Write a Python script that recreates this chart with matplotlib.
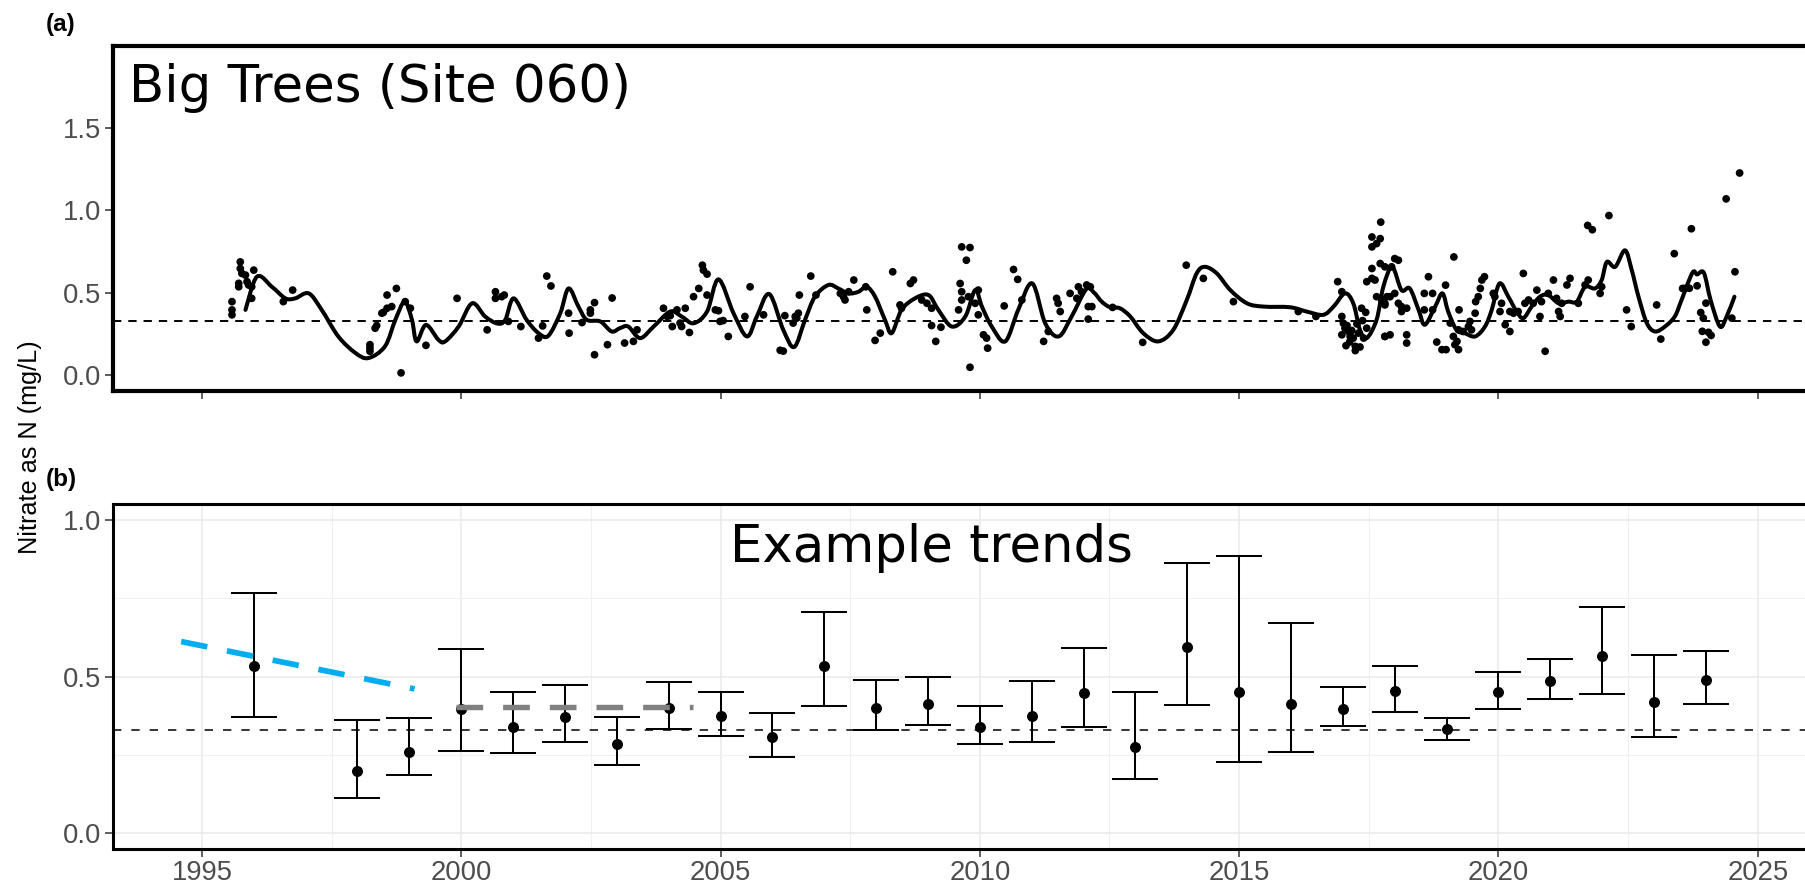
import numpy as np
import matplotlib
matplotlib.use("Agg")
import matplotlib.pyplot as plt
from matplotlib.path import Path
from matplotlib.patches import PathPatch

plt.rcParams["lines.scale_dashes"] = False

# --- panel (a): individual nitrate samples (year, mg/L) ---
obs_year = [
    1995.58, 1995.58, 1995.58, 1995.74, 1995.74, 1995.77, 1995.71, 1995.71, 1995.84, 1995.87,
    1995.90, 1995.96, 1996.00, 1995.96, 1996.57, 1996.75, 1998.24, 1998.24, 1998.24, 1998.34,
    1998.37, 1998.47, 1998.50, 1998.57, 1998.57, 1998.66, 1998.75, 1998.84, 1998.92, 1999.02,
    1999.32, 1999.92, 2000.50, 2000.66, 2000.66, 2000.78,
    2000.83, 2000.91, 2001.15, 2001.49, 2001.57, 2001.65, 2001.73, 2002.07, 2002.08, 2002.33,
    2002.49, 2002.49, 2002.57, 2002.57, 2002.82, 2002.91, 2003.15, 2003.32, 2003.39, 2003.90,
    2003.97, 2004.03, 2004.07, 2004.16, 2004.22, 2004.25, 2004.32, 2004.40, 2004.48, 2004.58,
    2004.65, 2004.67, 2004.74, 2004.74, 2004.90, 2004.96, 2004.99, 2005.05, 2005.15, 2005.47,
    2005.57, 2005.83, 2006.15, 2006.21, 2006.24, 2006.40, 2006.47, 2006.52,
    2006.44, 2006.50, 2006.74, 2006.84, 2007.31, 2007.37, 2007.40, 2007.47, 2007.57, 2007.80,
    2007.82, 2007.98, 2008.08, 2008.32, 2008.46, 2008.49, 2008.66, 2008.72, 2008.88, 2008.98,
    2009.07, 2009.07, 2009.25, 2009.15, 2009.59, 2009.62, 2009.65, 2009.65, 2009.65, 2009.81,
    2009.74, 2009.78, 2009.91, 2009.97, 2009.97, 2009.81, 2010.07, 2010.13, 2010.15, 2010.47,
    2010.65, 2010.73, 2010.81, 2011.23, 2011.32, 2011.48, 2011.51, 2011.55, 2011.74, 2011.87,
    2011.90, 2011.96, 2012.06, 2012.09, 2012.09,
    2012.13, 2012.16, 2012.56, 2013.14, 2013.98, 2014.31, 2014.89, 2016.14, 2016.48,
    2016.90, 2016.98, 2016.98, 2017.01, 2016.98, 2017.04, 2017.11, 2017.14, 2017.06, 2017.20,
    2017.24, 2017.24, 2017.30, 2017.36, 2017.40, 2017.46, 2017.46, 2017.56, 2017.62, 2017.56,
    2017.56, 2017.65, 2017.73, 2017.56, 2017.72, 2017.65, 2017.75, 2017.81, 2017.85, 2017.81,
    2017.72, 2017.08, 2017.13, 2017.17, 2017.27, 2017.33, 2017.38, 2017.44,
    2017.81, 2017.94, 2018.00, 2018.07, 2017.81, 2017.91, 2018.00, 2017.91, 2017.81, 2018.07,
    2018.13, 2018.13, 2018.23, 2018.23, 2018.23, 2018.57, 2018.73, 2018.57, 2018.73, 2018.65,
    2018.81, 2018.91, 2018.99, 2018.98, 2019.14, 2019.07, 2019.13, 2019.20, 2019.23, 2019.16,
    2019.23, 2019.24, 2019.32, 2019.42, 2019.48, 2019.45, 2019.55, 2019.56, 2019.61, 2019.65,
    2019.68, 2019.73, 2019.90, 2020.03, 2019.93, 2020.06, 2020.22, 2020.22, 2020.29, 2020.13,
    2020.38, 2020.48, 2020.51, 2020.58, 2020.67, 2020.74, 2020.80, 2020.83, 2020.90, 2020.96,
    2021.06, 2021.12, 2021.16, 2021.19, 2021.22, 2021.32, 2021.38, 2021.54, 2021.67, 2021.73,
    2021.72, 2021.81, 2022.13, 2021.96, 2021.99, 2022.47, 2022.56, 2023.05, 2023.13, 2023.39,
    2023.55, 2023.72, 2023.60, 2023.68, 2023.83, 2023.90, 2023.95, 2024.00, 2024.00, 2023.93,
    2024.05, 2024.10, 2024.39, 2024.56, 2024.50, 2024.65,
]
obs_nitrate = [
    0.445, 0.395, 0.365, 0.686, 0.646, 0.616, 0.556, 0.535, 0.606, 0.566,
    0.546, 0.535, 0.636, 0.465, 0.445, 0.515, 0.184, 0.164, 0.144, 0.284,
    0.300, 0.375, 0.380, 0.405, 0.485, 0.415, 0.525, 0.013, 0.445, 0.405,
    0.180, 0.465, 0.274, 0.505, 0.465, 0.475,
    0.485, 0.325, 0.294, 0.224, 0.298, 0.600, 0.540, 0.375, 0.254, 0.318,
    0.395, 0.375, 0.439, 0.123, 0.184, 0.467, 0.194, 0.204, 0.274, 0.405,
    0.355, 0.360, 0.294, 0.395, 0.315, 0.294, 0.405, 0.258, 0.475, 0.525,
    0.666, 0.636, 0.612, 0.485, 0.395, 0.390, 0.325, 0.330, 0.234, 0.355,
    0.535, 0.365, 0.150, 0.145, 0.360, 0.315, 0.345, 0.485,
    0.355, 0.375, 0.600, 0.485, 0.495, 0.475, 0.455, 0.505, 0.576, 0.535,
    0.395, 0.210, 0.254, 0.626, 0.425, 0.405, 0.555, 0.576, 0.455, 0.435,
    0.405, 0.300, 0.290, 0.204, 0.395, 0.555, 0.505, 0.455, 0.777, 0.773,
    0.696, 0.475, 0.435, 0.515, 0.365, 0.047, 0.244, 0.224, 0.163, 0.419,
    0.640, 0.580, 0.455, 0.204, 0.264, 0.465, 0.435, 0.385, 0.495, 0.465,
    0.535, 0.505, 0.546, 0.415, 0.339,
    0.535, 0.415, 0.410, 0.198, 0.666, 0.586, 0.445, 0.385, 0.355,
    0.566, 0.505, 0.355, 0.314, 0.244, 0.284, 0.264, 0.234, 0.178, 0.224,
    0.174, 0.148, 0.254, 0.405, 0.224, 0.284, 0.566, 0.586, 0.576, 0.646,
    0.777, 0.797, 0.927, 0.837, 0.827, 0.475, 0.455, 0.425, 0.475, 0.234,
    0.676, 0.300, 0.200, 0.270, 0.310, 0.170, 0.330, 0.380,
    0.656, 0.656, 0.706, 0.696, 0.435, 0.475, 0.495, 0.244, 0.234, 0.435,
    0.415, 0.385, 0.405, 0.244, 0.194, 0.495, 0.495, 0.395, 0.395, 0.596,
    0.200, 0.154, 0.154, 0.545, 0.716, 0.315, 0.234, 0.204, 0.154, 0.184,
    0.274, 0.395, 0.264, 0.294, 0.274, 0.325, 0.375, 0.445, 0.475, 0.525,
    0.576, 0.596, 0.495, 0.385, 0.475, 0.435, 0.385, 0.264, 0.375, 0.305,
    0.385, 0.616, 0.435, 0.455, 0.435, 0.515, 0.355, 0.445, 0.144, 0.495,
    0.576, 0.465, 0.385, 0.355, 0.435, 0.546, 0.586, 0.435, 0.546, 0.576,
    0.907, 0.881, 0.967, 0.495, 0.535, 0.395, 0.294, 0.425, 0.218, 0.736,
    0.525, 0.887, 0.526, 0.526, 0.541, 0.379, 0.345, 0.436, 0.199, 0.265,
    0.259, 0.240, 1.068, 0.626, 0.345, 1.225,
]

# smoothed fit through the samples (vertices)
fit_year = [
    1995.84, 1996.06, 1996.35, 1996.61, 1996.80, 1997.06, 1997.31, 1997.63, 1997.96, 1998.21,
    1998.53, 1998.73, 1998.91, 1999.05, 1999.14, 1999.32, 1999.56, 1999.69, 1999.95, 2000.21,
    2000.46, 2000.70, 2000.85, 2001.01, 2001.26, 2001.49, 2001.68, 2001.91, 2002.07, 2002.26,
    2002.42, 2002.68, 2002.90, 2003.06, 2003.22, 2003.45, 2003.71, 2004.03, 2004.25, 2004.48,
    2004.74, 2004.96, 2005.25, 2005.51, 2005.70, 2005.94, 2006.21, 2006.42, 2006.63, 2006.82,
    2007.08, 2007.27, 2007.47, 2007.66, 2007.82, 2007.98, 2008.17, 2008.30, 2008.49, 2008.75,
    2009.01, 2009.20, 2009.46, 2009.72, 2009.91, 2010.04, 2010.23, 2010.49, 2010.74, 2011.01,
    2011.26, 2011.52, 2011.77, 2012.05, 2012.20, 2012.35, 2012.51, 2012.70, 2012.90, 2013.15,
    2013.44, 2013.73, 2013.99, 2014.18, 2014.34, 2014.57, 2014.83, 2015.15, 2015.47, 2015.98,
    2016.30, 2016.62, 2016.82, 2017.04, 2017.20, 2017.33, 2017.46, 2017.65, 2017.78, 2017.95,
    2018.13, 2018.29, 2018.46, 2018.58, 2018.78, 2018.92, 2019.03, 2019.19, 2019.35, 2019.55,
    2019.74, 2019.87, 2020.02, 2020.19, 2020.35, 2020.48, 2020.64, 2020.80, 2020.96, 2021.16,
    2021.35, 2021.51, 2021.67, 2021.86, 2021.99, 2022.09, 2022.25, 2022.44, 2022.57, 2022.70,
    2022.86, 2023.02, 2023.21, 2023.40, 2023.53, 2023.74, 2023.83, 2023.96, 2024.09, 2024.27,
    2024.40, 2024.55,
]
fit_nitrate = [
    0.395, 0.596, 0.535, 0.465, 0.465, 0.495, 0.395, 0.234, 0.134, 0.103,
    0.174, 0.335, 0.445, 0.335, 0.204, 0.304, 0.214, 0.204, 0.294, 0.435,
    0.355, 0.312, 0.335, 0.465, 0.335, 0.254, 0.238, 0.375, 0.525, 0.415,
    0.335, 0.325, 0.264, 0.284, 0.294, 0.224, 0.294, 0.385, 0.355, 0.314,
    0.385, 0.580, 0.375, 0.234, 0.355, 0.491, 0.274, 0.170, 0.335, 0.475,
    0.546, 0.525, 0.495, 0.505, 0.535, 0.475, 0.335, 0.254, 0.395, 0.465,
    0.485, 0.395, 0.294, 0.355, 0.515, 0.415, 0.294, 0.204, 0.395, 0.556,
    0.314, 0.234, 0.355, 0.520, 0.500, 0.445, 0.411, 0.405, 0.355, 0.254,
    0.204, 0.274, 0.455, 0.616, 0.656, 0.616, 0.515, 0.435, 0.415, 0.411,
    0.385, 0.365, 0.415, 0.495, 0.435, 0.274, 0.224, 0.335, 0.535, 0.655,
    0.515, 0.525, 0.395, 0.305, 0.415, 0.495, 0.385, 0.274, 0.254, 0.234,
    0.294, 0.395, 0.555, 0.475, 0.385, 0.345, 0.415, 0.475, 0.485, 0.435,
    0.445, 0.445, 0.535, 0.525, 0.576, 0.686, 0.656, 0.756, 0.636, 0.475,
    0.315, 0.264, 0.294, 0.355, 0.455, 0.620, 0.610, 0.620, 0.455, 0.294,
    0.355, 0.475,
]

ref_level = 0.33

# --- panel (b): annual means with confidence intervals ---
ann_year = [1996, 1998, 1999, 2000, 2001, 2002, 2003, 2004, 2005, 2006, 2007, 2008, 2009,
            2010, 2011, 2012, 2013, 2014, 2015, 2016, 2017, 2018, 2019, 2020, 2021, 2022,
            2023, 2024]
ann_mean = [0.535, 0.200, 0.261, 0.397, 0.340, 0.371, 0.284, 0.400, 0.376, 0.307, 0.535,
            0.400, 0.413, 0.339, 0.375, 0.448, 0.277, 0.594, 0.450, 0.414, 0.398, 0.455,
            0.332, 0.452, 0.487, 0.567, 0.418, 0.490]
ann_low = [0.372, 0.113, 0.187, 0.263, 0.256, 0.293, 0.219, 0.332, 0.311, 0.245, 0.406,
           0.330, 0.346, 0.286, 0.290, 0.340, 0.173, 0.411, 0.229, 0.258, 0.344, 0.388,
           0.297, 0.397, 0.429, 0.446, 0.307, 0.413]
ann_high = [0.766, 0.361, 0.369, 0.588, 0.451, 0.473, 0.372, 0.483, 0.452, 0.384, 0.707,
            0.488, 0.498, 0.406, 0.485, 0.591, 0.451, 0.863, 0.884, 0.670, 0.466, 0.534,
            0.369, 0.514, 0.555, 0.722, 0.570, 0.583]

trend1_year = [1994.6, 1999.1]
trend1_val = [0.612, 0.461]
trend2_year = [1999.89, 2004.46]
trend2_val = [0.402, 0.402]

x_ticks = [1995, 2000, 2005, 2010, 2015, 2020, 2025]
x_minor = [1997.5, 2002.5, 2007.5, 2012.5, 2017.5, 2022.5]

TICK_FONT = "Liberation Sans"
TICK_COLOR = "#4D4D4D"


def smooth_path(xs, ys):
    # Catmull-Rom through the read vertices, drawn as cubic Bezier segments
    pts = np.column_stack([xs, ys])
    verts = [pts[0]]
    codes = [Path.MOVETO]
    n = len(pts)
    for i in range(n - 1):
        p0 = pts[max(i - 1, 0)]
        p1 = pts[i]
        p2 = pts[i + 1]
        p3 = pts[min(i + 2, n - 1)]
        verts += [p1 + (p2 - p0) / 6.0, p2 - (p3 - p1) / 6.0, p2]
        codes += [Path.CURVE4] * 3
    return Path(verts, codes)


def style_axis(ax, spine_w):
    for side in ["left", "bottom", "top"]:
        ax.spines[side].set_linewidth(spine_w)
        ax.spines[side].set_color("black")
    ax.spines["right"].set_visible(False)
    ax.tick_params(which="major", direction="out", length=5.5, width=1.1,
                   color="#333333", labelsize=19.8, labelcolor=TICK_COLOR, pad=2.5)
    ax.tick_params(which="minor", length=0)
    for lab in ax.get_xticklabels() + ax.get_yticklabels():
        lab.set_fontfamily(TICK_FONT)


fig = plt.figure(figsize=(18.06, 8.88), dpi=100)
W, H = 1806.0, 888.0
left = 112.7 / W
width = (1825.2 - 112.7) / W
xlim = (1993.28, 2026.3)

# panel (a)
ax_a = fig.add_axes([left, 1 - 390.7 / H, width, 344.7 / H])
ax_a.set_xlim(*xlim)
ax_a.set_ylim(-0.095, 1.995)
ax_a.axhline(ref_level, color="black", lw=1.4, ls=(0, (6.0, 5.0)), zorder=1)
ax_a.scatter(obs_year, obs_nitrate, s=31, color="black", edgecolors="none", zorder=3)
ax_a.add_patch(PathPatch(smooth_path(fit_year, fit_nitrate), facecolor="none",
                         edgecolor="black", lw=2.9, capstyle="round",
                         joinstyle="round", zorder=4))
ax_a.set_xticks(x_ticks)
ax_a.set_xticklabels([])
ax_a.set_yticks([0.0, 0.5, 1.0, 1.5])
ax_a.set_yticklabels(["0.0", "0.5", "1.0", "1.5"])
style_axis(ax_a, 3.0)
ax_a.text(0.0095, 0.8384, "Big Trees (Site 060)", transform=ax_a.transAxes,
          fontsize=37, family="DejaVu Sans", va="baseline", ha="left")

# panel (b)
ax_b = fig.add_axes([left, 1 - 849.0 / H, width, 344.7 / H])
ax_b.set_xlim(*xlim)
ax_b.set_ylim(-0.05, 1.05)
ax_b.set_axisbelow(True)
ax_b.set_xticks(x_ticks)
ax_b.set_xticklabels([str(t) for t in x_ticks])
ax_b.set_xticks(x_minor, minor=True)
ax_b.set_yticks([0.0, 0.5, 1.0])
ax_b.set_yticklabels(["0.0", "0.5", "1.0"])
ax_b.set_yticks([0.25, 0.75], minor=True)
ax_b.grid(which="major", color="#EBEBEB", lw=1.2)
ax_b.grid(which="minor", color="#F0F0F0", lw=0.8)
style_axis(ax_b, 2.2)

ax_b.axhline(ref_level, color="black", lw=1.1, ls=(0, (6.0, 7.2)), zorder=2)
m = np.array(ann_mean)
yerr = [m - np.array(ann_low), np.array(ann_high) - m]
ax_b.errorbar(ann_year, ann_mean, yerr=yerr, fmt="o", color="black", ms=6.9,
              elinewidth=1.45, capsize=16.8, capthick=1.45, zorder=3)
ax_b.plot(trend1_year, trend1_val, color="#00AEEF", lw=4.1,
          ls=(0, (19.2, 14.4)), solid_capstyle="butt", zorder=4)
ax_b.plot(trend2_year, trend2_val, color="#808080", lw=3.9,
          ls=(0, (19.2, 14.4)), solid_capstyle="butt", zorder=4)
ax_b.text(0.3605, 0.8317, "Example trends", transform=ax_b.transAxes,
          fontsize=37, family="DejaVu Sans", va="baseline", ha="left")

# panel tags and shared y label
fig.text(46.0 / W, 1 - 13.0 / H, "(a)", fontsize=17.5, fontweight="bold",
         family="Liberation Sans", va="top", ha="left")
fig.text(46.0 / W, 1 - 468.0 / H, "(b)", fontsize=17.5, fontweight="bold",
         family="Liberation Sans", va="top", ha="left")
fig.text(30.0 / W, 1 - 447.5 / H, "Nitrate as N (mg/L)", rotation=90, fontsize=18.2,
         family="Liberation Sans", va="center", ha="center")

fig.savefig("out.png", dpi=100)
